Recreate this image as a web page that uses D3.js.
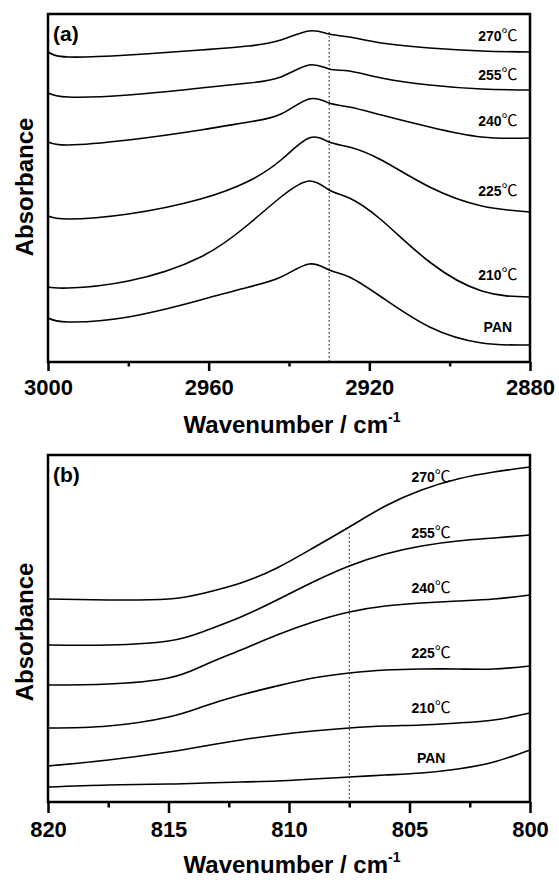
<!DOCTYPE html>
<html>

<head>
    <meta charset="UTF-8">
    <title>FTIR</title>
    <style>
        body { margin: 0; background: #fff; }
        text { font-family: "Liberation Sans", Arial, sans-serif; font-weight: bold; fill: #000; }
    </style>
</head>

<body>
    <script src="https://cdn.jsdelivr.net/npm/d3@7/dist/d3.min.js"></script>

    <svg id="svg" width="559" height="880"></svg>

    <script>
        // ---- data (offset absorbance, a.u.) ----
        const seriesNames = ["270", "255", "240", "225", "210", "PAN"];

        // panel (a) 3000-2880 cm-1
        const waveA = [3000, 2995, 2980, 2962, 2950, 2942, 2935, 2930, 2925, 2917, 2905, 2892, 2880];
        const a270 = [3.10, 3.05, 3.07, 3.12, 3.16, 3.22, 3.31, 3.28, 3.25, 3.19, 3.14, 3.11, 3.10];
        const a255 = [2.69, 2.65, 2.67, 2.74, 2.79, 2.85, 2.97, 2.93, 2.91, 2.84, 2.77, 2.73, 2.72];
        const a240 = [2.20, 2.17, 2.22, 2.32, 2.40, 2.48, 2.63, 2.59, 2.55, 2.47, 2.35, 2.25, 2.24];
        const a225 = [1.46, 1.43, 1.48, 1.63, 1.81, 2.02, 2.24, 2.20, 2.15, 2.02, 1.75, 1.56, 1.50];
        const a210 = [0.75, 0.74, 0.81, 1.05, 1.38, 1.65, 1.81, 1.72, 1.64, 1.42, 1.00, 0.71, 0.65];
        const aPAN = [0.44, 0.40, 0.45, 0.62, 0.75, 0.85, 0.98, 0.92, 0.85, 0.65, 0.35, 0.19, 0.17];
        const ticksA = [3000, 2960, 2920, 2880];
        const minorA = [2980, 2940, 2900];
        const markA = 2930;

        // panel (b) 820-800 cm-1
        const waveB = [820, 817.5, 815, 813.5, 812, 810.5, 809, 807.5, 806, 804.5, 803, 801.5, 800];
        const b270 = [2.03, 2.02, 2.03, 2.09, 2.19, 2.34, 2.54, 2.75, 2.96, 3.12, 3.23, 3.30, 3.35];
        const b255 = [1.57, 1.57, 1.61, 1.71, 1.85, 2.02, 2.20, 2.36, 2.48, 2.56, 2.61, 2.64, 2.67];
        const b240 = [1.17, 1.18, 1.24, 1.37, 1.52, 1.67, 1.80, 1.90, 1.96, 1.99, 2.01, 2.03, 2.07];
        const b225 = [0.74, 0.76, 0.85, 0.96, 1.07, 1.16, 1.24, 1.29, 1.32, 1.33, 1.33, 1.33, 1.36];
        const b210 = [0.36, 0.42, 0.50, 0.56, 0.62, 0.67, 0.71, 0.74, 0.76, 0.77, 0.79, 0.82, 0.89];
        const bPAN = [0.15, 0.17, 0.18, 0.19, 0.20, 0.21, 0.23, 0.25, 0.27, 0.29, 0.33, 0.40, 0.52];
        const ticksB = [820, 815, 810, 805, 800];
        const minorB = [817.5, 812.5, 807.5, 802.5];
        const markB = 807.5;

        const svg = d3.select("#svg");

        const drawPanel = function (cfg) {
            const x = d3.scaleLinear().domain(cfg.xDomain).range([48, 530]);
            const y = d3.scaleLinear().domain(cfg.yDomain).range([cfg.bottom, cfg.top]);
            const g = svg.append("g");

            //曲线
            const line = d3.line()
                .x((d, i) => x(cfg.wave[i]))
                .y(d => y(d))
                .curve(d3.curveNatural);
            g.selectAll("path.spec")
                .data(cfg.series)
                .enter().append("path")
                .attr("class", "spec")
                .attr("d", line)
                .attr("fill", "none")
                .attr("stroke", "#000")
                .attr("stroke-width", 1.6);

            // dotted marker
            g.append("line")
                .attr("x1", x(cfg.mark)).attr("x2", x(cfg.mark))
                .attr("y1", y(cfg.markTop)).attr("y2", y(0))
                .attr("stroke", "#000")
                .attr("stroke-width", 1)
                .attr("stroke-dasharray", "1.5,2.5");

            // frame
            g.append("rect")
                .attr("x", 48).attr("y", cfg.top)
                .attr("width", 482).attr("height", cfg.bottom - cfg.top)
                .attr("fill", "none")
                .attr("stroke", "#000")
                .attr("stroke-width", 2.5);

            // bottom axis
            const ax = g.append("g").attr("transform", "translate(0," + cfg.bottom + ")");
            ax.call(d3.axisBottom(x).tickValues(cfg.ticks).tickSize(cfg.major).tickPadding(8).tickFormat(d3.format("")));
            ax.select(".domain").remove();
            ax.selectAll(".tick line").attr("stroke-width", 2.5);
            ax.selectAll(".tick text")
                .style("font-size", "22px")
                .style("font-family", "'Liberation Sans', Arial, sans-serif")
                .style("font-weight", "bold");
            const mx = g.append("g").attr("transform", "translate(0," + cfg.bottom + ")");
            mx.call(d3.axisBottom(x).tickValues(cfg.minor).tickSize(cfg.major / 2).tickFormat(""));
            mx.select(".domain").remove();
            mx.selectAll(".tick line").attr("stroke-width", 2.5);

            // series labels (digits bold, ℃ in CJK face)
            const lab = g.selectAll("text.lab")
                .data(cfg.labels)
                .enter().append("text")
                .attr("class", "lab")
                .attr("x", d => x(d.w))
                .attr("y", d => y(d.v))
                .attr("text-anchor", "middle")
                .style("font-size", "14px");
            lab.append("tspan").text((d, i) => seriesNames[i]);
            lab.filter((d, i) => seriesNames[i] != "PAN")
                .append("tspan")
                .style("font-family", "'Noto Sans CJK SC', sans-serif")
                .style("font-weight", "normal")
                .style("font-size", "16px")
                .text("℃");

            // panel tag
            g.append("text")
                .attr("x", 53).attr("y", cfg.top + 27)
                .style("font-size", "21px")
                .text(cfg.tag);

            // axis titles
            const t = g.append("text")
                .attr("x", 292).attr("y", cfg.bottom + 71)
                .attr("text-anchor", "middle")
                .style("font-size", "24px");
            t.append("tspan").text("Wavenumber / cm");
            t.append("tspan").attr("dy", -11).style("font-size", "14px").text("-1");

            g.append("text")
                .attr("transform", "translate(33," + cfg.yMid + ") rotate(-90)")
                .attr("text-anchor", "middle")
                .style("font-size", "24px")
                .text("Absorbance");
        }

        drawPanel({
            tag: "(a)", top: 14, bottom: 362, yMid: 187,
            xDomain: [3000, 2880], yDomain: [0, 3.48],
            wave: waveA, series: [a270, a255, a240, a225, a210, aPAN],
            ticks: ticksA, minor: minorA, major: 9,
            mark: markA, markTop: 3.30,
            labels: [{ w: 2888, v: 3.21 }, { w: 2888, v: 2.82 }, { w: 2888, v: 2.36 },
            { w: 2888, v: 1.66 }, { w: 2888, v: 0.82 }, { w: 2888, v: 0.30 }]
        })

        drawPanel({
            tag: "(b)", top: 455, bottom: 802, yMid: 632,
            xDomain: [820, 800], yDomain: [0, 3.47],
            wave: waveB, series: [b270, b255, b240, b225, b210, bPAN],
            ticks: ticksB, minor: minorB, major: 11,
            mark: markB, markTop: 2.69,
            labels: [{ w: 804.1, v: 3.20 }, { w: 804.1, v: 2.64 }, { w: 804.1, v: 2.09 },
            { w: 804.1, v: 1.44 }, { w: 804.1, v: 0.89 }, { w: 804.1, v: 0.39 }]
        })
    </script>

</body>

</html>
